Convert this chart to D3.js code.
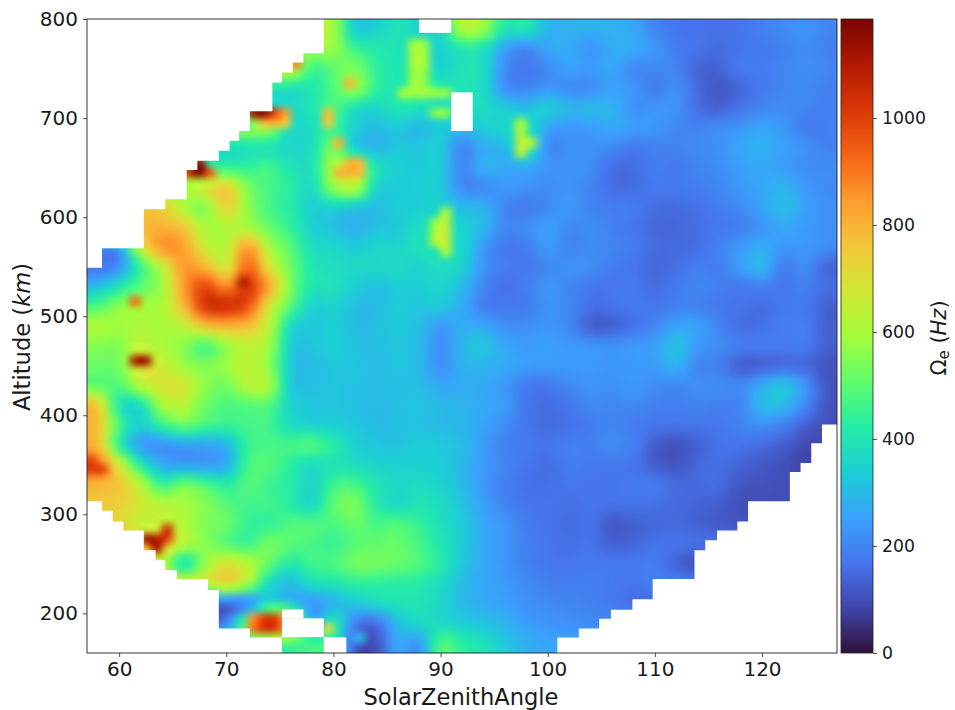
<!DOCTYPE html>
<html>
<head>
<meta charset="utf-8">
<script src="https://cdnjs.cloudflare.com/ajax/libs/d3/7.8.5/d3.min.js"></script>
<style>
  html, body { margin: 0; padding: 0; background: #fff; }
  svg { display: block; }
  text { font-family: "DejaVu Sans", sans-serif; fill: #1a1a1a; }
</style>
</head>
<body>
<svg id="chart" width="955" height="710"></svg>
<script>
// values in Hz: one row per altitude, one column per zenith angle
const szaCols = d3.range(58, 127, 2);
const altRows = d3.range(790, 160, -20);
const _ = null;

const r790 = [_,_,_,_,_,_,_,_,_,_,_,620,300,340,400,350,350,660,600,400,430,280,280,290,280,270,190,170,170,160,170,190,210,230,200];
const r770 = [_,_,_,_,_,_,_,_,_,_,_,590,450,420,400,400,330,400,390,230,180,270,280,210,280,280,240,180,170,150,170,175,190,220,190];
const r750 = [_,_,_,_,_,_,_,_,_,700,430,500,560,430,400,420,330,400,390,200,170,200,260,240,270,190,210,200,130,140,190,180,200,220,200];
const r730 = [_,_,_,_,_,_,_,_,380,360,400,480,620,440,400,480,430,400,380,200,190,230,200,200,250,240,170,230,150,110,140,180,200,210,190];
const r710 = [_,_,_,_,_,_,_,_,360,360,400,500,360,350,420,400,350,400,380,340,300,370,300,310,300,210,240,230,150,130,170,200,210,200,190];
const r690 = [_,_,_,_,_,_,_,600,600,350,370,470,330,300,320,280,340,300,340,370,430,240,230,240,270,250,240,200,200,220,230,270,240,170,190];
const r670 = [_,_,_,_,_,_,350,370,370,350,370,560,300,270,330,320,350,170,270,280,480,190,220,220,210,170,190,200,210,220,270,290,250,230,190];
const r650 = [_,_,_,_,_,450,420,440,480,400,370,640,680,400,340,330,350,180,300,260,260,230,230,220,150,150,190,170,200,210,250,270,240,210,220];
const r630 = [_,_,_,_,600,720,800,530,470,430,350,600,690,330,330,340,340,190,190,240,230,210,230,200,150,150,180,180,190,200,240,260,300,240,210];
const r610 = [_,_,_,760,590,500,780,560,460,420,330,340,300,300,340,330,360,300,300,190,170,200,250,190,190,190,150,150,160,190,210,260,320,250,220];
const r590 = [_,_,800,800,780,590,600,590,510,440,340,300,270,310,320,390,400,360,300,200,220,260,200,220,190,170,145,140,160,170,180,220,270,240,220];
const r570 = [200,180,700,900,850,650,600,900,590,500,370,370,330,360,350,400,400,370,230,170,180,250,190,210,200,190,150,150,150,200,240,280,230,240,220];
const r550 = [150,190,430,620,870,800,620,980,680,520,400,380,370,370,380,340,390,360,220,190,170,200,230,230,180,170,140,160,190,180,260,320,170,230,130];
const r530 = [300,400,500,560,850,1020,850,1060,860,530,400,400,340,300,330,340,360,300,200,150,190,240,200,170,170,180,150,180,210,190,170,190,170,190,160];
const r510 = [480,580,600,600,780,1060,1080,1000,660,500,330,350,300,300,340,320,340,270,170,180,170,230,210,160,170,180,170,190,190,170,170,150,180,180,130];
const r490 = [620,590,600,600,620,780,800,780,650,340,320,340,300,310,330,310,220,280,270,210,220,230,210,110,120,160,200,260,260,200,150,160,190,190,130];
const r470 = [550,540,660,590,560,420,560,640,610,320,310,350,310,310,320,310,200,300,340,260,240,250,240,240,230,240,250,340,230,220,190,190,180,190,130];
const r450 = [520,520,720,680,570,550,590,650,570,310,300,320,320,300,320,300,200,290,280,280,250,240,240,240,230,240,240,300,190,190,110,120,140,140,110];
const r430 = [480,480,640,700,700,560,520,640,640,310,310,320,310,310,310,310,260,270,270,230,170,170,210,230,220,240,210,200,220,220,210,280,350,240,110];
const r410 = [800,350,340,620,640,520,470,480,490,340,320,320,310,300,310,320,300,290,270,250,170,150,170,210,200,210,190,190,200,190,190,320,310,210,110];
const r390 = [800,470,330,450,540,480,460,470,470,360,340,330,320,300,310,310,300,290,260,210,170,150,160,180,200,180,170,170,170,170,200,220,190,130,100];
const r370 = [800,380,210,200,230,240,260,460,470,480,510,440,340,320,310,340,330,310,240,190,180,170,190,190,220,200,120,100,130,170,170,150,130,90,_];
const r350 = [950,700,400,260,220,220,240,480,500,420,360,390,370,350,350,340,340,300,240,200,170,150,190,180,170,170,120,110,150,160,140,120,100,80,_];
const r330 = [800,770,650,420,560,500,420,500,450,430,340,470,480,400,360,380,350,300,230,190,160,160,170,170,170,180,190,150,150,160,110,110,100,_,_];
const r310 = [750,740,680,640,600,560,490,460,470,420,330,520,560,410,350,400,380,320,250,190,170,170,160,170,170,170,160,150,140,130,100,_,_,_,_];
const r290 = [_,730,620,650,620,540,530,440,430,490,500,470,520,470,500,450,380,340,260,240,180,170,150,170,110,130,140,150,130,120,110,_,_,_,_];
const r270 = [_,_,800,800,640,560,470,430,550,500,470,440,490,510,520,470,400,340,260,230,190,170,160,170,130,140,170,170,170,_,_,_,_,_,_];
const r250 = [_,_,_,620,300,570,720,640,520,400,470,480,550,540,520,490,430,320,270,230,190,170,170,180,180,180,190,130,90,_,_,_,_,_,_];
const r230 = [_,_,_,_,_,700,790,650,340,280,390,400,430,430,420,420,370,300,260,240,210,190,190,190,180,170,190,_,_,_,_,_,_,_,_];
const r210 = [_,_,_,_,_,_,90,100,350,280,200,260,330,380,400,400,360,300,270,250,220,210,200,190,180,150,_,_,_,_,_,_,_,_,_];
const r190 = [_,_,_,_,_,_,150,620,1000,1000,200,470,170,130,310,380,360,330,310,290,240,230,220,210,_,_,_,_,_,_,_,_,_,_,_];
const r170 = [_,_,_,_,_,_,_,_,_,440,470,_,100,90,280,200,520,430,400,330,280,260,_,_,_,_,_,_,_,_,_,_,_,_,_];

const grid = [r790,r770,r750,r730,r710,r690,r670,r650,r630,r610,r590,r570,r550,r530,r510,r490,
              r470,r450,r430,r410,r390,r370,r350,r330,r310,r290,r270,r250,r230,r210,r190,r170];

// small features that are narrower than the grid above: [sza, alt, Hz]
const spots = [
  [72.5,705,1120],[73.5,705,1185],[74.5,705,1000],[75.5,705,850],[73.5,695,780],[74.5,695,800],[75.5,695,750],
  [67.5,655,1150],[67.5,645,1185],[66.5,645,1050],[68.5,645,950],
  [76.5,755,880],[81.5,735,790],[61.5,515,920],
  [61.5,455,1110],[62.5,455,1130],
  [62.5,275,1120],[63.5,275,1110],[64.5,285,1040],[63.5,265,1100],[64.5,275,1000],
  [73.5,195,1000],[74.5,195,1010],[73.5,185,1020],[74.5,185,1020],[72.5,185,900],[72.5,195,860],
  [71.5,535,1100],[57.5,345,1010],[58.5,345,990],[57.5,355,980],
  [79.5,185,700],[82.5,175,300],
  [79.5,705,780],[79.5,695,760],[80.5,675,800],[81.5,655,800],[82.5,655,790],[80.5,645,790],[81.5,645,810],[82.5,645,780],
  [87.5,775,590],[87.5,765,600],[87.5,755,600],[88.5,775,560],[88.5,765,580],[88.5,755,590],[87.5,745,580],[88.5,745,560],[87.5,735,590],[88.5,735,560],
  [86.5,725,590],[87.5,725,590],[88.5,725,590],[89.5,725,580],[90.5,725,570],[89.5,705,560],[90.5,705,560],
  [90.5,605,600],[89.5,595,560],[90.5,595,640],[89.5,585,600],[90.5,585,650],[89.5,575,620],[90.5,575,650],[90.5,565,600],
  [97.5,695,600],[97.5,685,620],[97.5,675,640],[97.5,665,630],[98.5,675,620]
];

// where the figure has data: [altHigh, altLow, szaLeft, szaRight]
const spans = [
  [800,765.5,79.1,127],[765.5,756,77.2,127],[756,746,76.2,127],[746,736,75.2,127],[736,707,74.3,127],
  [707,687,72.2,127],[687,677,71.2,127],[677,667,70.3,127],[667,657,69.3,127],[657,647.5,67.3,127],
  [647.5,618,66.3,127],[618,608,64.3,127],[608,568.5,62.3,127],[568.5,549,58.4,127],[549,391,57,127],
  [391,372,57,125.6],[372,352,57,124.6],[352,343,57,123.6],[343,313.5,57,122.6],[313.5,304,58.4,118.7],
  [304,293,59.4,118.7],[293,284,60.4,117.7],[284,274,62.3,115.8],[274,264,62.3,114.7],[264,254,63.4,113.7],
  [254,244,64.3,113.7],[244,235,65.4,113.7],[235,224,68.3,109.8],[224,214.5,69.3,109.8],[214.5,204,69.3,107.9],
  [204,195,69.3,105.9],[195,185,69.3,104.8],[185,176,72.2,102.9],[176,160,75.2,100.9]
];
const holes = [
  [800,786,88,91],[726,687,91,93],[204,195,75.2,77.2],[195,176,75.2,79.1],[176,160,79.1,81.2]
];

const turboStops = ["#30123b","#4145ab","#4675ed","#39a2fc","#1bcfd4","#24eca6","#61fc6c","#a4fc3b",
                    "#d1e834","#f3c63a","#fe9b2d","#f36315","#d93806","#b11901","#7a0402"];
const vMax = 1185;
const xTicks = [60, 70, 80, 90, 100, 110, 120];
const yTicks = [200, 300, 400, 500, 600, 700, 800];
const cTicks = [0, 200, 400, 600, 800, 1000];

const plot = { left: 87, right: 837, top: 19, bottom: 653 };
const bar = { left: 841, right: 873 };

const x = d3.scaleLinear().domain([57, 127]).range([plot.left, plot.right]);
const y = d3.scaleLinear().domain([160, 800]).range([plot.bottom, plot.top]);
const cy = d3.scaleLinear().domain([0, vMax]).range([plot.bottom, plot.top]);
const color = d3.scaleLinear()
  .domain(turboStops.map((d, i) => i / (turboStops.length - 1) * vMax))
  .range(turboStops)
  .interpolate(d3.interpolateRgb)
  .clamp(true);

const svg = d3.select("#chart");

// empty cells take the nearest value on their row so the smoothing doesn't go dark at the edge
const filled = grid.map(row => row.map((v, i) => {
  if (v !== null) return v;
  for (let k = 1; k < row.length; k++) {
    if (row[i - k] != null) return row[i - k];
    if (row[i + k] != null) return row[i + k];
  }
  return 0;
}));

function cellValue(sza, alt) {
  const fi = Math.max(0, Math.min(szaCols.length - 1.001, (sza - szaCols[0]) / 2));
  const fj = Math.max(0, Math.min(altRows.length - 1.001, (altRows[0] - alt) / 20));
  const i = Math.floor(fi), j = Math.floor(fj);
  const top = d3.interpolateNumber(filled[j][i], filled[j][i + 1])(fi - i);
  const bot = d3.interpolateNumber(filled[j + 1][i], filled[j + 1][i + 1])(fi - i);
  return d3.interpolateNumber(top, bot)(fj - j);
}

const nx = 70, ny = 64;
const small = document.createElement("canvas");
small.width = nx; small.height = ny;
const sctx = small.getContext("2d");
const img = sctx.createImageData(nx, ny);
const fine = d3.range(ny).map(j => d3.range(nx).map(i => cellValue(57.5 + i, 795 - 10 * j)));
spots.forEach(([s, a, v]) => {
  fine[Math.round((795 - a) / 10)][Math.round(s - 57.5)] = v;
});
fine.forEach((row, j) => row.forEach((v, i) => {
  const c = d3.rgb(color(v));
  const p = (j * nx + i) * 4;
  img.data[p] = c.r; img.data[p + 1] = c.g; img.data[p + 2] = c.b; img.data[p + 3] = 255;
}));
sctx.putImageData(img, 0, 0);

const w = plot.right - plot.left, h = plot.bottom - plot.top;
const big = document.createElement("canvas");
big.width = w; big.height = h;
const bctx = big.getContext("2d");
bctx.imageSmoothingEnabled = true;
bctx.imageSmoothingQuality = "high";
bctx.drawImage(small, 0, 0, w, h);

svg.append("clipPath").attr("id", "dataClip")
  .selectAll("rect").data(spans).join("rect")
  .attr("x", d => x(d[2]))
  .attr("y", d => y(d[0]))
  .attr("width", d => x(d[3]) - x(d[2]))
  .attr("height", d => y(d[1]) - y(d[0]) + 0.3);

svg.append("image")
  .attr("x", plot.left).attr("y", plot.top)
  .attr("width", w).attr("height", h)
  .attr("href", big.toDataURL())
  .attr("clip-path", "url(#dataClip)");

svg.append("g").selectAll("rect").data(holes).join("rect")
  .attr("x", d => x(d[2]))
  .attr("y", d => y(d[0]))
  .attr("width", d => x(d[3]) - x(d[2]))
  .attr("height", d => y(d[1]) - y(d[0]))
  .attr("fill", "#fff");

// colorbar
const defs = svg.append("defs");
const grad = defs.append("linearGradient").attr("id", "turbo")
  .attr("x1", 0).attr("x2", 0).attr("y1", 1).attr("y2", 0);
grad.selectAll("stop").data(turboStops).join("stop")
  .attr("offset", (d, i) => i / (turboStops.length - 1))
  .attr("stop-color", d => d);
svg.append("rect")
  .attr("x", bar.left).attr("y", plot.top)
  .attr("width", bar.right - bar.left).attr("height", h)
  .attr("fill", "url(#turbo)")
  .attr("stroke", "#222").attr("stroke-width", 0.8);

// axes
const xAxis = d3.axisBottom(x).tickValues(xTicks).tickSize(4).tickPadding(5);
const yAxis = d3.axisLeft(y).tickValues(yTicks).tickSize(4).tickPadding(5);
const cAxis = d3.axisRight(cy).tickValues(cTicks).tickFormat(d3.format("d")).tickSize(4).tickPadding(5);

const gx = svg.append("g").attr("transform", `translate(0,${plot.bottom})`).call(xAxis);
const gy = svg.append("g").attr("transform", `translate(${plot.left},0)`).call(yAxis);
const gc = svg.append("g").attr("transform", `translate(${bar.right},0)`).call(cAxis);
[gx, gy, gc].forEach(g => {
  g.select(".domain").remove();
  g.selectAll("line").attr("stroke", "#222").attr("stroke-width", 0.8);
  g.selectAll("text").attr("fill", "#1a1a1a").style("font-family", '"DejaVu Sans", sans-serif');
});
gx.selectAll("text").style("font-size", "20px");
gy.selectAll("text").style("font-size", "20px");
gc.selectAll("text").style("font-size", "17.3px");

svg.append("rect")
  .attr("x", plot.left).attr("y", plot.top)
  .attr("width", w).attr("height", h)
  .attr("fill", "none").attr("stroke", "#222").attr("stroke-width", 0.9);

// labels
svg.append("text")
  .attr("x", 461).attr("y", 705)
  .attr("text-anchor", "middle")
  .style("font-size", "22.6px")
  .text("SolarZenithAngle");

const yLabel = svg.append("text")
  .attr("transform", "translate(30,337) rotate(-90)")
  .attr("text-anchor", "middle")
  .style("font-size", "22.6px");
yLabel.append("tspan").text("Altitude (");
yLabel.append("tspan").style("font-style", "italic").text("km");
yLabel.append("tspan").text(")");

const cLabel = svg.append("text")
  .attr("transform", "translate(946,338) rotate(-90)")
  .attr("text-anchor", "middle")
  .style("font-size", "21px");
cLabel.append("tspan").text("Ω");
cLabel.append("tspan").attr("dy", 3).style("font-size", "15px").text("e");
cLabel.append("tspan").attr("dy", -3).text(" (");
cLabel.append("tspan").style("font-style", "italic").text("Hz");
cLabel.append("tspan").text(")");
</script>
</body>
</html>
